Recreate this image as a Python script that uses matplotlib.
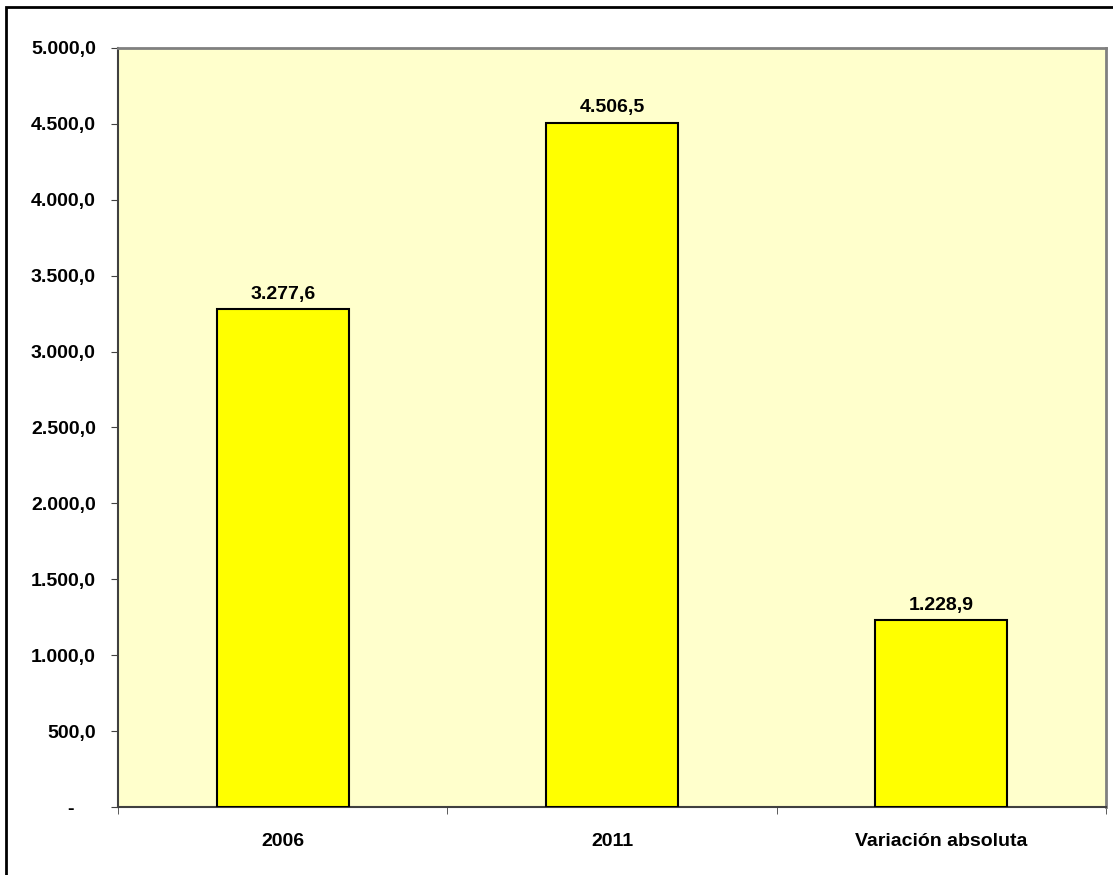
import matplotlib.pyplot as plt
from matplotlib.patches import Rectangle
from matplotlib.transforms import ScaledTranslation
import numpy as np

categories = ['2006', '2011', 'Variación absoluta']
values = [3277.6, 4506.5, 1228.9]
yticks = [0, 500, 1000, 1500, 2000, 2500, 3000, 3500, 4000, 4500, 5000]


def fmt_es(v):
    # 4506.5 -> '4.506,5'
    s = '{:,.1f}'.format(v)
    return s.replace(',', 'X').replace('.', ',').replace('X', '.')


plt.rcParams['font.family'] = ['Liberation Sans', 'DejaVu Sans']
plt.rcParams['font.weight'] = 'bold'

fig = plt.figure(figsize=(11.13, 8.75), dpi=100)
ax = fig.add_axes([118 / 1113, 68 / 875, 988 / 1113, 759 / 875])
ax.set_facecolor('#FFFFCC')

x = np.arange(len(categories))
ax.bar(x, values, width=0.4, color='#FFFF00', edgecolor='black', linewidth=1.5, zorder=3)
for xi, v in zip(x, values):
    ax.annotate(fmt_es(v), (xi, v), xytext=(0, 5), textcoords='offset points',
                ha='center', va='bottom', fontsize=14, fontweight='bold')

ax.set_xlim(-0.5, len(categories) - 0.5)
ax.set_ylim(0, 5000)
ax.set_yticks(yticks)
ax.set_yticklabels(['-'] + [fmt_es(t) for t in yticks[1:]], fontsize=14, fontweight='bold')
ax.set_xticks(x)
ax.set_xticklabels(categories, fontsize=14, fontweight='bold')
ax.set_xticks(np.arange(len(categories) + 1) - 0.5, minor=True)
ax.tick_params(axis='x', which='major', length=0, pad=19)
ax.tick_params(axis='x', which='minor', length=5, direction='out', color='#404040')
ax.tick_params(axis='y', length=5, direction='out', color='#404040', pad=11)

# zero label sits further left
ax.get_yticklabels()[0].set_transform(ax.get_yticklabels()[0].get_transform()
                                      + ScaledTranslation(-0.22, 0, fig.dpi_scale_trans))

for side in ['left', 'bottom']:
    ax.spines[side].set_color('#404040')
    ax.spines[side].set_linewidth(1.5)
for side in ['top', 'right']:
    ax.spines[side].set_color('#808080')
    ax.spines[side].set_linewidth(2)

# outer chart border
fig.patches.append(Rectangle((6 / 1113, -0.05), 1.2, (875 - 7) / 875 + 0.05,
                             transform=fig.transFigure, fill=False,
                             edgecolor='black', linewidth=2))

fig.savefig('out.png', dpi=100)
